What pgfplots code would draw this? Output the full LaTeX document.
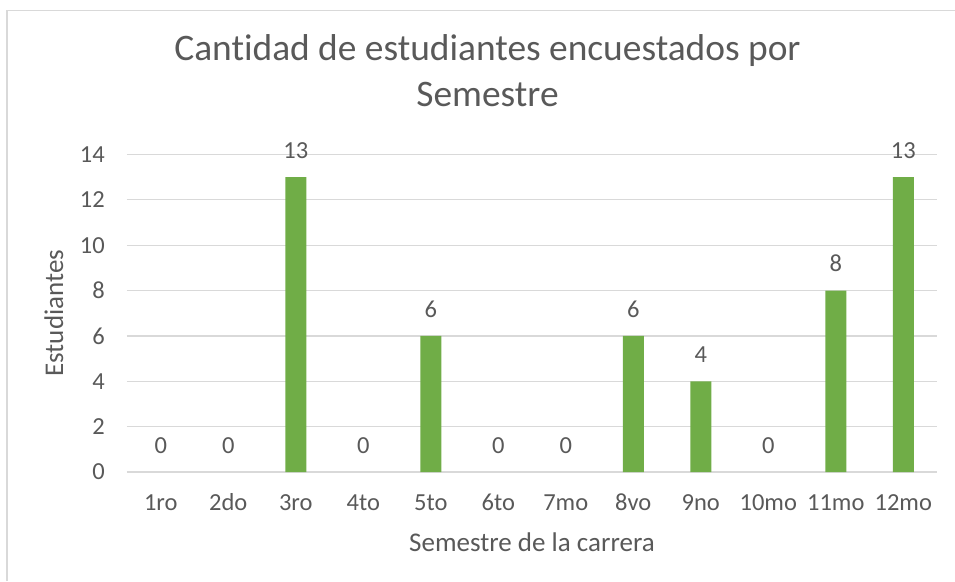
\documentclass[border=0pt]{standalone}
\usepackage{fontspec}
\setmainfont{Carlito}[Ligatures=NoCommon]
\usepackage{pgfplots}
\pgfplotsset{compat=1.18}
\definecolor{bargreen}{HTML}{70AD47}
\definecolor{textgray}{HTML}{595959}
\definecolor{gridgray}{HTML}{D9D9D9}

\begin{document}
\begin{tikzpicture}
    % picture frame: 1pt per reference pixel, origin at the plot's lower left
    \useasboundingbox (-127pt,-109pt) rectangle (828pt,472pt);
    \draw[gridgray, line width=1.5pt] (-120pt,-109pt) -- (-120pt,461.5pt) -- (828pt,461.5pt);

    \begin{axis}[
        at={(0pt,0pt)}, anchor=south west,
        scale only axis,
        width=810pt, height=317.5pt,
        ybar, bar width=21pt, bar shift=0pt,
        xmin=0.5, xmax=12.5,
        ymin=0, ymax=14,
        xtick={1,...,12},
        xticklabels={1ro,2do,3ro,4to,5to,6to,7mo,8vo,9no,10mo,11mo,12mo},
        ytick={0,2,...,14},
        ymajorgrids=true,
        grid style={gridgray, line width=1.2pt},
        axis line style={draw=none},
        major tick length=0pt,
        /pgf/number format/assume math mode=true,
        ticklabel style={font=\fontsize{24.5}{28}\selectfont, text=textgray, inner sep=0pt},
        yticklabel style={anchor=east, xshift=-22pt},
        xticklabel style={anchor=base, yshift=-38pt},
        xlabel={Semestre de la carrera},
        ylabel={Estudiantes},
        label style={font=\fontsize{27}{31}\selectfont, text=textgray, inner sep=0pt},
        xlabel style={at={(axis description cs:0.5,0)}, anchor=base, yshift=-79pt},
        ylabel style={at={(axis description cs:-0.079,0.5)}, anchor=base},
        title={Cantidad de estudiantes encuestados por\\Semestre},
        title style={at={(axis description cs:0.4451,1)}, anchor=south, yshift=41.5pt,
            align=center, inner sep=0pt, text=textgray, font=\fontsize{37.4}{46}\selectfont},
    ]
    % bars (semesters with no students are left empty)
    \addplot[fill=bargreen, draw=none] coordinates {
        (3,13) (5,6) (8,6) (9,4) (11,8) (12,13)
    };
    % value labels for every semester
    \addplot[draw=none, fill=none, nodes near coords,
        every node near coord/.append style={font=\fontsize{24.5}{28}\selectfont, text=textgray,
            inner sep=0pt, anchor=south, yshift=18.5pt}]
    coordinates {
        (1,0) (2,0) (3,13) (4,0) (5,6) (6,0) (7,0) (8,6) (9,4) (10,0) (11,8) (12,13)
    };
    \end{axis}
\end{tikzpicture}
\end{document}
